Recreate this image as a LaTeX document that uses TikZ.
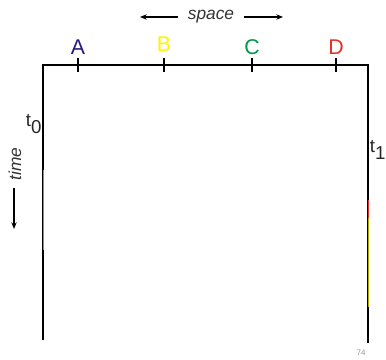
\documentclass[tikz,border=0pt]{standalone}
\usepackage{fontspec}
\setmainfont{Liberation Sans}
\definecolor{stnavy}{RGB}{40,24,130}
\definecolor{styellow}{RGB}{255,245,0}
\definecolor{stgreen}{RGB}{0,150,70}
\definecolor{stred}{RGB}{232,48,42}
\definecolor{stolive}{RGB}{150,150,40}
\definecolor{stgray}{RGB}{150,150,150}
\usetikzlibrary{arrows.meta,positioning}

\begin{document}
\begin{tikzpicture}[
  x=0.75pt,y=-0.75pt,
  axis/.style={line width=1.5pt,black},
  tick/.style={line width=1.5pt,black},
  lbl/.style={font=\fontsize{16}{16}\selectfont,inner sep=0pt},
  arr/.style={-{Stealth[length=5pt,width=4pt]},line width=0.9pt,black},
]
  \useasboundingbox (0,0) rectangle (386,360);

  % frame corners
  \coordinate (tl) at (43,65);
  \coordinate (tr) at (368,65);
  \coordinate (bl) at (43,340);
  \coordinate (br) at (368,343);

  % space axis and time lines
  \draw[axis] (bl) -- (tl) -- (tr) -- (br);

  % faint colour traces on the lines
  \draw[stolive,line width=0.7pt] (43.5,170) -- (43.5,250);
  \draw[stred,line width=0.9pt] (368.4,200) -- (368.4,218);
  \draw[styellow,line width=0.5pt,opacity=0.7] (368.8,218) -- (368.8,307);

  % ticks and locations
  \foreach \px/\name/\col/\dy in {78/A/stnavy/0, 164/B/styellow/-3, 252/C/stgreen/0, 336/D/stred/0} {
    \coordinate (tick\name) at (\px,65);
    \draw[tick] (\px,58) -- (\px,72);
    \node[lbl,text=\col] (loc\name) at (\px,47+\dy) {\name};
  }

  % space label
  \node[font=\fontsize{13}{13}\selectfont\itshape,text=black!80] (space) at (211,17) {space};
  \coordinate (spaceL) at (140,17);
  \coordinate (spaceR) at (283,17);
  \draw[arr] (space.west) ++(-4pt,0) -- (spaceL);
  \draw[arr] (space.east) ++(4pt,0) -- (spaceR);

  % time label
  \node[font=\fontsize{13}{13}\selectfont\itshape,text=black!80,rotate=90] (time) at (15,164) {time};
  \coordinate (timeE) at (14,229);
  \draw[arr] (14,188) -- (timeE);

  % instants
  \node[font=\fontsize{14}{14}\selectfont,text=black!85] (tzero) at (34,124) {t$_{\textrm{0}}$};
  \node[font=\fontsize{14}{14}\selectfont,text=black!85] (tone) at (378,150) {t$_{\textrm{1}}$};

  % page number
  \node[font=\fontsize{6}{6}\selectfont,text=stgray] (page) at (361,353) {74};
\end{tikzpicture}
\end{document}
